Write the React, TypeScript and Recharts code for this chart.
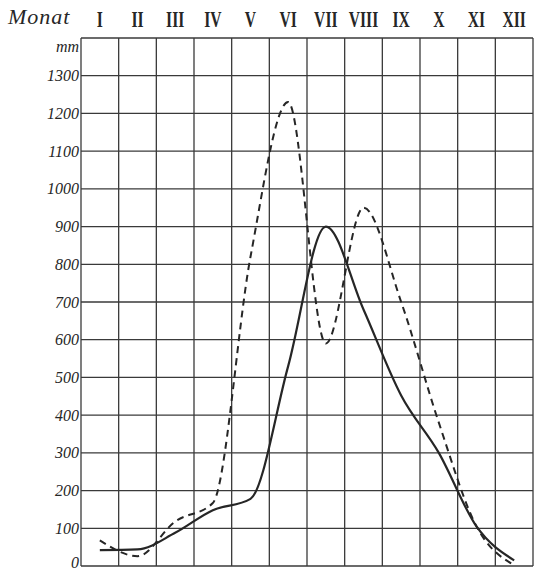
import React from 'react';
import { LineChart, Line, XAxis, YAxis, CartesianGrid } from 'recharts';

// monthly values (mm), read at the column centres
const months = ['I', 'II', 'III', 'IV', 'V', 'VI', 'VII', 'VIII', 'IX', 'X', 'XI', 'XII'];
const solidSeries = [42, 44, 88, 148, 178, 530, 900, 680, 452, 300, 105, 15];
const dashedSeries = [68, 26, 118, 167, 820, 1230, 590, 950, 700, 380, 105, 2];
const yTicks = [0, 100, 200, 300, 400, 500, 600, 700, 800, 900, 1000, 1100, 1200, 1300, 1400];

const data = months.map((m, i) => ({
  pos: i + 0.5,
  month: m,
  solid: solidSeries[i],
  dashed: dashedSeries[i],
}));

const ink = '#262626';
const gridInk = '#3a3a3a';

const YTick = (props: any) => {
  const { x, y, payload } = props;
  const isTop = payload.value === 1400;
  const isZero = payload.value === 0;
  return (
    <text
      x={x}
      y={isTop ? y + 8 : isZero ? y - 4 : y}
      textAnchor="end"
      dominantBaseline="central"
      fontFamily="'Liberation Serif', serif"
      fontStyle="italic"
      fontSize={16}
      fill={ink}
    >
      {isTop ? 'mm' : payload.value}
    </text>
  );
};

// condensed bold roman numerals above the columns
const XTick = (props: any) => {
  const { x, y, payload } = props;
  return (
    <g transform={`translate(${x},${y}) scale(0.68,1)`}>
      <text
        x={0}
        y={0}
        textAnchor="middle"
        fontFamily="'Liberation Serif', serif"
        fontWeight="bold"
        fontSize={23}
        fill={ink}
      >
        {months[Math.floor(payload.value)]}
      </text>
    </g>
  );
};

export default function App() {
  return (
    <div style={{ position: 'absolute', left: 0, top: 0, width: 548, height: 570, background: '#fff' }}>
      <div
        style={{
          position: 'absolute',
          left: 8,
          top: 4,
          fontFamily: "'Liberation Serif', serif",
          fontStyle: 'italic',
          fontSize: 22,
          color: ink,
          letterSpacing: 1,
        }}
      >
        Monat
      </div>
      <LineChart width={548} height={570} data={data} margin={{ top: 0, right: 15, bottom: 4, left: 0 }}>
        <CartesianGrid
          stroke={gridInk}
          strokeWidth={1.3}
          verticalCoordinatesGenerator={({ offset }: any) =>
            Array.from({ length: 13 }, (_, i) => offset.left + (i * offset.width) / 12)
          }
        />
        <XAxis
          dataKey="pos"
          type="number"
          orientation="top"
          domain={[0, 12]}
          ticks={data.map((d) => d.pos)}
          height={38}
          axisLine={false}
          tickLine={false}
          tickSize={0}
          tickMargin={11}
          tick={<XTick />}
          interval={0}
        />
        <YAxis
          type="number"
          domain={[0, 1400]}
          ticks={yTicks}
          width={81}
          axisLine={false}
          tickLine={false}
          tickSize={0}
          tickMargin={2}
          tick={<YTick />}
          interval={0}
        />
        <Line
          type="monotone"
          dataKey="dashed"
          stroke={ink}
          strokeWidth={2}
          strokeDasharray="7 5"
          dot={false}
          isAnimationActive={false}
        />
        <Line
          type="monotone"
          dataKey="solid"
          stroke={ink}
          strokeWidth={2.2}
          dot={false}
          isAnimationActive={false}
        />
      </LineChart>
    </div>
  );
}
